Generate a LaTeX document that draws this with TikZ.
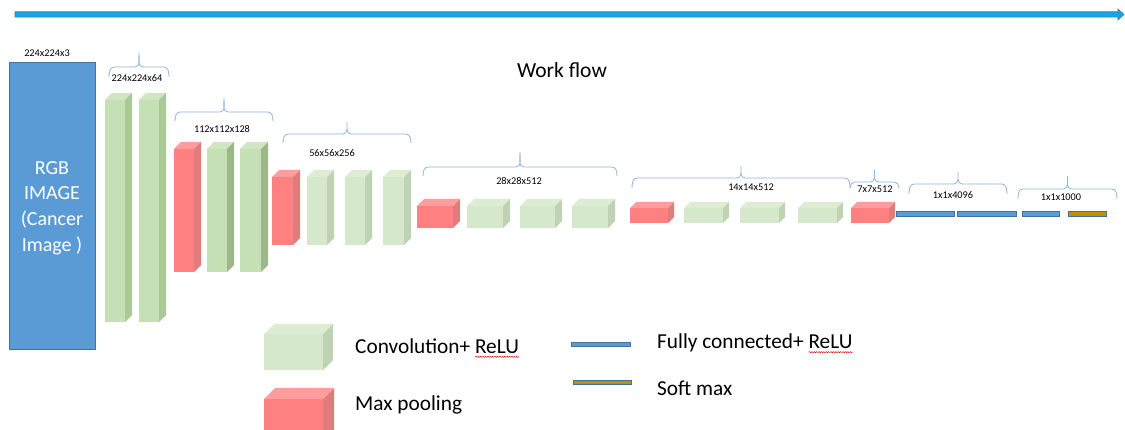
\documentclass[tikz,border=0pt]{standalone}
\usepackage{fontspec}
\setmainfont{Carlito}
\usetikzlibrary{positioning, calc, decorations.pathmorphing}

\definecolor{flowcyan}{HTML}{12A8E6}
\definecolor{flowedge}{HTML}{3A78B0}
\definecolor{inputblue}{HTML}{5B9BD5}
\definecolor{inputedge}{HTML}{41719C}
\definecolor{braceblue}{HTML}{8DB4E2}
\definecolor{convAfront}{HTML}{C5E0B4}
\definecolor{convAtop}{HTML}{CFE6C1}
\definecolor{convAside}{HTML}{AAC996}
\definecolor{convBfront}{HTML}{C5E0B4}
\definecolor{convBtop}{HTML}{CFE6C1}
\definecolor{convBside}{HTML}{9DB78B}
\definecolor{convCfront}{HTML}{D5E8CB}
\definecolor{convCtop}{HTML}{DDEDD4}
\definecolor{convCside}{HTML}{BFD3B4}
\definecolor{poolfront}{HTML}{FF8080}
\definecolor{pooltop}{HTML}{FF9C9C}
\definecolor{poolside}{HTML}{E07C7C}
\definecolor{softgold}{HTML}{BF9000}

% a layer drawn as a box: x1, x2, top, bottom, depth, colour set
\newcommand{\cnnblock}[6]{%
  \fill[#6front] (#1,#3) rectangle (#2,#4);
  \fill[#6top] (#1,#3) -- (#1+#5,#3-#5) -- (#2+#5,#3-#5) -- (#2,#3) -- cycle;
  \fill[#6side] (#2,#3) -- (#2+#5,#3-#5) -- (#2+#5,#4-#5) -- (#2,#4) -- cycle;
}
% curly bracket over a group: x1, x2, leg end, bar, tip
\newcommand{\groupbrace}[5]{%
  \pgfmathsetmacro{\bracemid}{0.5*#1+0.5*#2}
  \draw[dimbrace] (#1,#3) to[out=90,in=180] (#1+5,#4) -- (\bracemid-4,#4)
    to[out=0,in=-90] (\bracemid,#5) to[out=-90,in=180] (\bracemid+4,#4)
    -- (#2-5,#4) to[out=0,in=90] (#2,#3);
}

\tikzset{
  dimlabel/.style={font=\fontsize{10.3}{12}\selectfont, inner sep=0pt},
  dimbrace/.style={draw=braceblue, line width=0.8pt},
  legendtext/.style={font=\fontsize{21.3}{24}\selectfont, anchor=west, inner sep=0pt},
  fcbar/.style={fill=inputblue, draw=inputedge, line width=0.8pt},
  smbar/.style={fill=softgold, draw=inputedge, line width=0.8pt},
  squiggle/.style={red!85!black, line width=0.45pt, decorate,
    decoration={snake, amplitude=0.6pt, segment length=2.4pt}},
}

\begin{document}
\begin{tikzpicture}[x=1pt, y=-1pt]
    % page
    \clip (0,0) rectangle (1125,430);
    \fill[white] (0,0) rectangle (1125,430);

    % work flow arrow
    \coordinate (flowstart) at (15,14.5);
    \coordinate (flowend) at (1124,14.5);
    \draw[draw=flowedge, fill=flowcyan, line width=0.6pt]
      ($(flowstart)+(0,-2.7)$) -- ($(flowend)+(-6,-2.7)$) -- ($(flowend)+(-6,-5.5)$)
      -- (flowend) -- ($(flowend)+(-6,5.5)$) -- ($(flowend)+(-6,2.7)$)
      -- ($(flowstart)+(0,2.7)$) -- cycle;
    \node[font=\fontsize{21.5}{24}\selectfont] (workflow) at (562,70) {Work flow};

    % input image
    \draw[fill=inputblue, draw=inputedge, line width=1pt] (9,63) rectangle (95,350);
    \node[text=white, align=center, font=\fontsize{20}{25.7}\selectfont] (rgb) at (52,208)
      {RGB\\IMAGE\\(Cancer\\Image )};
    \node[dimlabel] (d3) at (47,53) {224x224x3};

    % 224x224x64
    \cnnblock{105}{125}{100}{322}{7}{convA}
    \cnnblock{139}{159}{100}{322}{7}{convA}
    \groupbrace{109}{169}{77}{67}{53}
    \node[dimlabel] (d64) at (137,78) {224x224x64};

    % 112x112x128
    \cnnblock{174}{194}{149}{272}{7}{pool}
    \cnnblock{207}{227}{149}{272}{7}{convB}
    \cnnblock{240}{261}{149}{272}{7}{convB}
    \groupbrace{175}{273}{121}{112}{98}
    \node[dimlabel] (d128) at (222,129) {112x112x128};

    % 56x56x256
    \cnnblock{272}{293}{177}{245}{7}{pool}
    \cnnblock{307}{327}{177}{245}{7}{convC}
    \cnnblock{345}{365}{177}{245}{7}{convC}
    \cnnblock{383}{404}{177}{245}{7}{convC}
    \groupbrace{283}{411}{143}{134}{122}
    \node[dimlabel] (d256) at (332,153) {56x56x256};

    % 28x28x512
    \cnnblock{417}{453}{206}{228}{7}{pool}
    \cnnblock{467}{503}{206}{228}{7}{convC}
    \cnnblock{520}{555}{206}{228}{7}{convC}
    \cnnblock{572}{608}{206}{228}{7}{convC}
    \groupbrace{423}{617}{176}{167}{152}
    \node[dimlabel] (d28) at (519,181) {28x28x512};

    % 14x14x512 and 7x7x512
    \cnnblock{630}{668}{208}{223}{6}{pool}
    \cnnblock{684}{723}{208}{223}{6}{convC}
    \cnnblock{740}{779}{208}{223}{6}{convC}
    \cnnblock{798}{837}{208}{223}{6}{convC}
    \cnnblock{851}{889}{208}{223}{6}{pool}
    \groupbrace{632}{850}{188}{178}{166}
    \node[dimlabel] (d14) at (751,187) {14x14x512};
    \groupbrace{850}{899}{188}{182}{170}
    \node[dimlabel] (d7) at (875,189) {7x7x512};

    % fully connected
    \draw[fcbar] (896,211) rectangle (954,216);
    \draw[fcbar] (957,211) rectangle (1016,216);
    \groupbrace{909}{1007}{194}{184}{172}
    \node[dimlabel] (d4096) at (953,195) {1x1x4096};
    \draw[fcbar] (1022,211) rectangle (1059,216);
    \draw[smbar] (1068,211) rectangle (1106,216);
    \groupbrace{1018}{1117}{199}{189}{176}
    \node[dimlabel] (d1000) at (1061,197) {1x1x1000};

    % legend
    \cnnblock{264}{323}{334}{370}{10}{convC}
    \node[legendtext] (convtxt) at (355,346) {Convolution+ ReLU};
    \cnnblock{264}{323}{399}{441}{11}{pool}
    \node[legendtext] (pooltxt) at (355,405) {Max pooling};
    \draw[fcbar] (571,342) rectangle (630,346);
    \node[legendtext] (fctxt) at (657,343) {Fully connected+ ReLU};
    \draw[smbar] (573,380) rectangle (631,384);
    \node[legendtext] (smtxt) at (657,388) {Soft max};

    % spelling marks
    \draw[squiggle] ($(convtxt.base east)+(-44,3.5)$) -- ($(convtxt.base east)+(0,3.5)$);
    \draw[squiggle] ($(fctxt.base east)+(-44,3.5)$) -- ($(fctxt.base east)+(0,3.5)$);
\end{tikzpicture}
\end{document}
